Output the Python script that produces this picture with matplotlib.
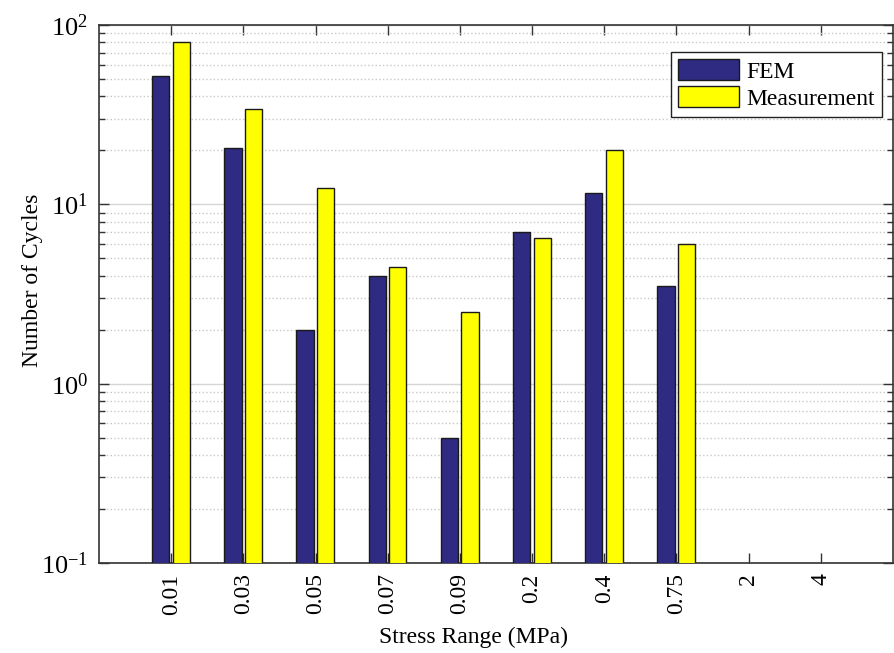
import matplotlib
matplotlib.use("Agg")
import matplotlib.pyplot as plt
import matplotlib.ticker as mticker
import numpy as np

# stress ranges and cycle counts
stress_labels = ["0.01", "0.03", "0.05", "0.07", "0.09", "0.2", "0.4", "0.75", "2", "4"]
fem_cycles = [52, 20.5, 2.0, 4.0, 0.5, 7.0, 11.5, 3.5, np.nan, np.nan]
meas_cycles = [80, 34, 12.4, 4.5, 2.5, 6.5, 20, 6.0, np.nan, np.nan]

plt.rcParams["font.family"] = ["Liberation Serif", "DejaVu Serif"]
plt.rcParams["mathtext.fontset"] = "custom"
plt.rcParams["mathtext.rm"] = "Liberation Serif"
plt.rcParams["mathtext.it"] = "Liberation Serif:italic"

fig = plt.figure(figsize=(8.94, 6.53), dpi=100)
ax = fig.add_axes([0.1107, 0.1378, 0.8882, 0.8239])

x = np.arange(1, len(stress_labels) + 1)
w = 0.24
ax.bar(x - 0.145, fem_cycles, w, color="#2f2a82", edgecolor="#1a1a1a", linewidth=1.0, label="FEM", zorder=3)
ax.bar(x + 0.14, meas_cycles, w, color="#ffff00", edgecolor="#1a1a1a", linewidth=1.0, label="Measurement", zorder=3)

ax.set_yscale("log")
ax.set_ylim(0.1, 100)
ax.set_xlim(0, 11)
ax.set_xticks(x)
ax.set_xticklabels(stress_labels, rotation=90, fontsize=17)
ax.yaxis.set_major_locator(mticker.LogLocator(base=10))
ax.yaxis.set_minor_locator(mticker.LogLocator(base=10, subs=np.arange(2, 10)))
ax.yaxis.set_minor_formatter(mticker.NullFormatter())
ax.tick_params(axis="y", which="major", labelsize=19, pad=8)
ax.tick_params(axis="x", which="major", pad=7.5)
ax.tick_params(which="both", direction="in", top=True, right=True, color="#333333")
ax.tick_params(which="major", length=7, width=1)
ax.tick_params(which="minor", length=4, width=1)

ax.grid(True, axis="y", which="major", color="#d6d6d6", linestyle="-", linewidth=1, zorder=0)
ax.grid(True, axis="y", which="minor", color="#c8c8c8", linestyle=":", linewidth=1, zorder=0)
ax.set_axisbelow(True)
for s in ax.spines.values():
    s.set_color("#333333")
    s.set_linewidth(1.2)

ax.set_xlabel("Stress Range (MPa)", fontsize=17)
ax.set_ylabel("Number of Cycles", fontsize=17)
ax.xaxis.set_label_coords(0.472, -0.118)
ax.yaxis.set_label_coords(-0.0704, 0.526)

leg = ax.legend(loc="upper right", bbox_to_anchor=(0.986, 0.95), fontsize=17, fancybox=False,
                edgecolor="#222222", framealpha=1, handlelength=2.6, handleheight=1.0,
                handletextpad=0.3, borderpad=0.3, labelspacing=0.15, borderaxespad=0)
leg.get_frame().set_linewidth(1.0)

plt.savefig("out.png", dpi=100)
